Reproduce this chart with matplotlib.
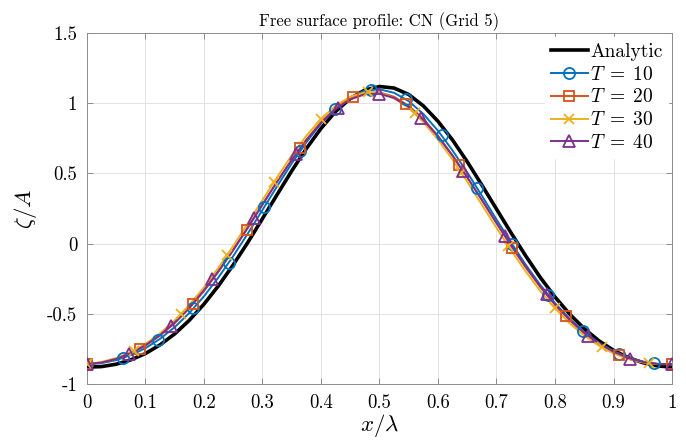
import matplotlib

matplotlib.use("Agg")
import matplotlib.pyplot as plt
from matplotlib.legend_handler import HandlerTuple

plt.rcParams["font.family"] = ["cmr10", "DejaVu Serif"]
plt.rcParams["mathtext.fontset"] = "cm"
plt.rcParams["axes.formatter.use_mathtext"] = True

# profile samples, x/lambda
x_line = [0.0, 0.025, 0.05, 0.075, 0.1, 0.125, 0.15, 0.175, 0.2, 0.225,
          0.25, 0.275, 0.3, 0.325, 0.35, 0.375, 0.4, 0.425, 0.45, 0.475,
          0.5, 0.525, 0.55, 0.575, 0.6, 0.625, 0.65, 0.675, 0.7, 0.725,
          0.75, 0.775, 0.8, 0.825, 0.85, 0.875, 0.9, 0.925, 0.95, 0.975, 1.0]

analytic = [-0.880, -0.876, -0.859, -0.828, -0.783, -0.721, -0.643, -0.546, -0.431, -0.299,
            -0.151, 0.009, 0.178, 0.349, 0.518, 0.677, 0.820, 0.941, 1.033, 1.094,
            1.119, 1.108, 1.062, 0.981, 0.871, 0.737, 0.583, 0.417, 0.246, 0.076,
            -0.088, -0.242, -0.380, -0.502, -0.606, -0.692, -0.760, -0.812, -0.848, -0.871, -0.880]

t10 = [-0.860, -0.851, -0.830, -0.794, -0.745, -0.678, -0.595, -0.494, -0.375, -0.239,
       -0.089, 0.072, 0.240, 0.408, 0.571, 0.722, 0.855, 0.963, 1.042, 1.089,
       1.099, 1.074, 1.015, 0.923, 0.804, 0.663, 0.507, 0.341, 0.172, 0.007,
       -0.151, -0.295, -0.424, -0.536, -0.630, -0.707, -0.766, -0.810, -0.840, -0.856, -0.860]

t20 = [-0.859, -0.847, -0.822, -0.782, -0.727, -0.655, -0.567, -0.461, -0.338, -0.199,
       -0.048, 0.112, 0.277, 0.441, 0.598, 0.741, 0.866, 0.966, 1.036, 1.074,
       1.077, 1.046, 0.982, 0.888, 0.768, 0.628, 0.473, 0.310, 0.145, -0.017,
       -0.170, -0.311, -0.437, -0.547, -0.639, -0.714, -0.772, -0.815, -0.843, -0.858, -0.859]

t30 = [-0.858, -0.843, -0.815, -0.772, -0.714, -0.639, -0.547, -0.437, -0.311, -0.170,
       -0.017, 0.145, 0.310, 0.473, 0.628, 0.768, 0.888, 0.982, 1.046, 1.077,
       1.074, 1.036, 0.966, 0.866, 0.741, 0.598, 0.441, 0.277, 0.112, -0.048,
       -0.199, -0.338, -0.461, -0.567, -0.655, -0.727, -0.782, -0.822, -0.847, -0.859, -0.858]

t40 = [-0.859, -0.847, -0.821, -0.780, -0.724, -0.651, -0.562, -0.455, -0.332, -0.194,
       -0.044, 0.116, 0.279, 0.441, 0.595, 0.737, 0.859, 0.958, 1.027, 1.064,
       1.067, 1.037, 0.974, 0.881, 0.763, 0.625, 0.472, 0.311, 0.148, -0.012,
       -0.165, -0.306, -0.432, -0.542, -0.635, -0.711, -0.770, -0.814, -0.843, -0.858, -0.859]

# marker samples for each run
t10_mx = [0.0, 0.061, 0.121, 0.182, 0.242, 0.303, 0.364, 0.424, 0.485,
          0.545, 0.606, 0.667, 0.727, 0.788, 0.848, 0.909, 0.970]
t10_my = [-0.860, -0.816, -0.690, -0.462, -0.138, 0.260, 0.657, 0.959, 1.097,
          1.029, 0.772, 0.395, -0.006, -0.364, -0.624, -0.784, -0.854]

t20_mx = [0.0, 0.0909, 0.1818, 0.2727, 0.3636, 0.4545, 0.5455, 0.6364, 0.7273, 0.8182, 0.9091, 1.0]
t20_my = [-0.859, -0.749, -0.429, 0.097, 0.678, 1.045, 0.996, 0.559, -0.031, -0.519, -0.790, -0.859]

t30_mx = [0.0, 0.08, 0.16, 0.24, 0.32, 0.40, 0.48, 0.56, 0.64, 0.72, 0.80, 0.88, 0.96]
t30_my = [-0.858, -0.762, -0.505, -0.079, 0.441, 0.888, 1.079, 0.929, 0.505, -0.017, -0.461, -0.739, -0.853]

t40_mx = [0.0, 0.0714, 0.1429, 0.2143, 0.2857, 0.3571, 0.4286, 0.5,
          0.5714, 0.6429, 0.7143, 0.7857, 0.8571, 0.9286, 1.0]
t40_my = [-0.859, -0.787, -0.589, -0.255, 0.185, 0.637, 0.969, 1.067,
          0.896, 0.517, 0.056, -0.362, -0.658, -0.819, -0.859]

x_ticks = [0, 0.1, 0.2, 0.3, 0.4, 0.5, 0.6, 0.7, 0.8, 0.9, 1]
x_labels = ["0", "0.1", "0.2", "0.3", "0.4", "0.5", "0.6", "0.7", "0.8", "0.9", "1"]
y_ticks = [-1, -0.5, 0, 0.5, 1, 1.5]
y_labels = ["-1", "-0.5", "0", "0.5", "1", "1.5"]

fig = plt.figure(figsize=(6.86, 4.45), dpi=100)
ax = fig.add_axes([0.1268, 0.1371, 0.8528, 0.7887])

(h_an,) = ax.plot(x_line, analytic, color="black", linewidth=2.6, zorder=3)

runs = [
    ("$T\\;=\\;10$", t10, t10_mx, t10_my, "#0072BD", "o", 8.0),
    ("$T\\;=\\;20$", t20, t20_mx, t20_my, "#D95319", "s", 7.5),
    ("$T\\;=\\;30$", t30, t30_mx, t30_my, "#EDB120", "x", 6.5),
    ("$T\\;=\\;40$", t40, t40_mx, t40_my, "#7E2F8E", "^", 9.0),
]
handles = [h_an]
labels = ["Analytic"]
for label, yline, mx, my, color, marker, size in runs:
    (ln,) = ax.plot(x_line, yline, color=color, linewidth=1.4, zorder=4)
    (mk,) = ax.plot(mx, my, linestyle="none", marker=marker, markersize=size,
                    markerfacecolor="none", markeredgecolor=color,
                    markeredgewidth=1.3, zorder=5)
    handles.append((ln, mk))
    labels.append(label)

ax.set_xlim(0, 1)
ax.set_ylim(-1, 1.5)
ax.set_xticks(x_ticks)
ax.set_xticklabels(x_labels)
ax.set_yticks(y_ticks)
ax.set_yticklabels(y_labels)
ax.tick_params(direction="in", length=4, width=0.6, color="#7f7f7f",
               labelsize=13.5, top=True, right=True, pad=7)
for spine in ax.spines.values():
    spine.set_color("#8c8c8c")
    spine.set_linewidth(0.7)
ax.grid(True, color="#e3e3e3", linewidth=0.7)
ax.set_axisbelow(True)

ax.set_title("Free surface profile: CN (Grid 5)", fontsize=12, pad=5)
ax.set_xlabel("$x/\\lambda$", fontsize=16.5, labelpad=0)
ax.set_ylabel("$\\zeta/A$", fontsize=16.5, labelpad=6)

leg = ax.legend(handles, labels, loc="upper right", fontsize=14,
                handler_map={tuple: HandlerTuple(ndivide=1)},
                frameon=True, fancybox=False, edgecolor="white", framealpha=1,
                handlelength=1.9, handletextpad=0.1, labelspacing=0.25,
                borderpad=0.3, borderaxespad=0.2)

fig.savefig("out.png", dpi=100)
